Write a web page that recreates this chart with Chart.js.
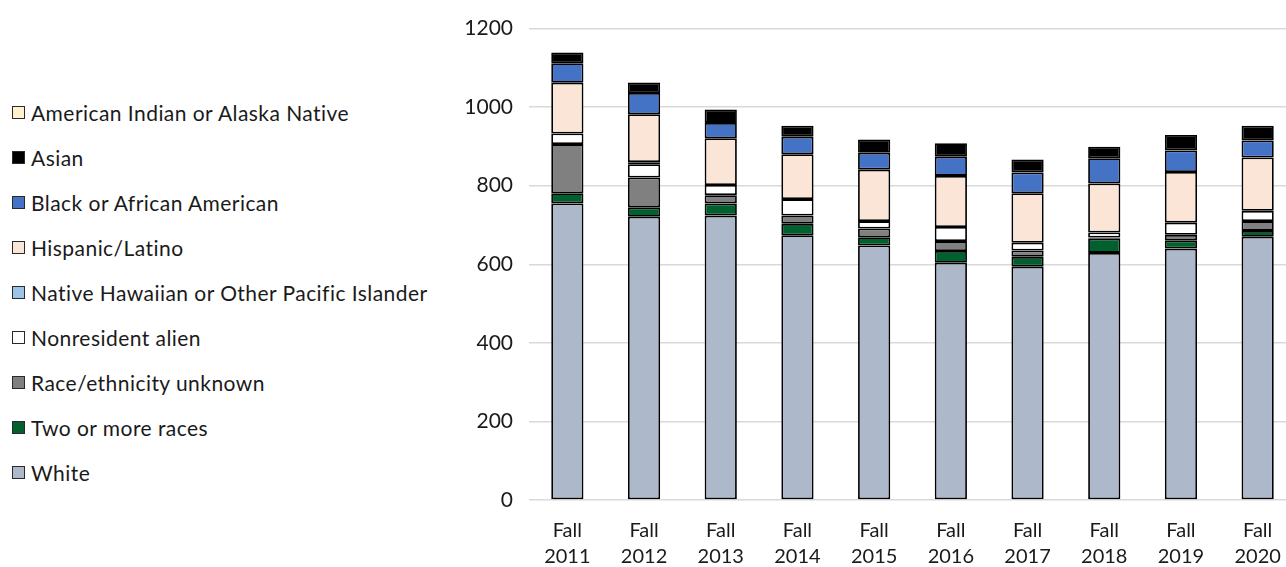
<!DOCTYPE html>
<html>
<head>
<meta charset="utf-8">
<script src="https://cdn.jsdelivr.net/npm/chart.js@4/dist/chart.umd.min.js"></script>
<style>
  html, body { margin: 0; padding: 0; background: #fff; overflow: hidden; width: 1286px; height: 567px; }
  #legend { position: absolute; left: 12px; top: 90px; font-family: Lato, "Open Sans", sans-serif; font-size: 21px; letter-spacing: 0.45px; color: #1a1a1a; }
  .item { height: 45px; display: flex; align-items: center; white-space: nowrap; }
  .box { width: 11px; height: 11px; border: 1px solid #2a2a2a; margin-right: 6px; flex: none; }
  #wrap { position: absolute; left: 440px; top: 0; width: 858px; height: 567px; }
</style>
</head>
<body>
<div id="legend"></div>
<div id="wrap"><canvas id="c" width="858" height="567"></canvas></div>
<script>
const categories = ["Fall 2011","Fall 2012","Fall 2013","Fall 2014","Fall 2015","Fall 2016","Fall 2017","Fall 2018","Fall 2019","Fall 2020"];
const yTicks = [0, 200, 400, 600, 800, 1000, 1200];

// series values (stack order bottom -> top)
const white         = [755, 721, 724, 674, 648, 604, 594, 629, 640, 670];
const twoOrMore     = [ 26,  24,  31,  29,  21,  30,  25,  36,  21,  15];
const unknown       = [125,  76,  21,  21,  22,  25,  16,   3,  14,  25];
const nonresident   = [ 27,  34,  26,  42,  19,  36,  20,  13,  31,  26];
const nativeHawaiian= [  0,   5,   0,   0,   0,   0,   0,   0,   0,   0];
const hispanic      = [129, 122, 119, 114, 131, 130, 126, 125, 129, 136];
const black         = [ 50,  54,  39,  45,  43,  49,  53,  64,  55,  43];
const asian         = [ 27,  27,  34,  28,  34,  34,  33,  29,  39,  38];
const amIndian      = [  0,   0,   0,   0,   0,   0,   0,   0,   0,   0];

const legendOrder = ["American Indian or Alaska Native","Asian","Black or African American","Hispanic/Latino","Native Hawaiian or Other Pacific Islander","Nonresident alien","Race/ethnicity unknown","Two or more races","White"];

const series = [
  { label: "White", data: white, color: "#adb9ca" },
  { label: "Two or more races", data: twoOrMore, color: "#00612e" },
  { label: "Race/ethnicity unknown", data: unknown, color: "#808080" },
  { label: "Nonresident alien", data: nonresident, color: "#ffffff" },
  { label: "Native Hawaiian or Other Pacific Islander", data: nativeHawaiian, color: "#9dc3e6" },
  { label: "Hispanic/Latino", data: hispanic, color: "#fbe5d6" },
  { label: "Black or African American", data: black, color: "#4472c4" },
  { label: "Asian", data: asian, color: "#000000" },
  { label: "American Indian or Alaska Native", data: amIndian, color: "#fff2cc" }
];

// HTML legend
const legendEl = document.getElementById('legend');
legendOrder.forEach(name => {
  const s = series.find(x => x.label === name);
  const it = document.createElement('div');
  it.className = 'item';
  const b = document.createElement('span');
  b.className = 'box';
  b.style.background = s.color;
  const t = document.createElement('span');
  t.textContent = name;
  it.appendChild(b); it.appendChild(t);
  legendEl.appendChild(it);
});

const FONT = { family: "Lato, 'Open Sans', sans-serif", size: 20 };
new Chart(document.getElementById('c'), {
  type: 'bar',
  data: {
    labels: categories.map(c => c.split(' ')),
    datasets: series.map(s => ({
      label: s.label,
      data: s.data,
      backgroundColor: s.color,
      borderColor: '#000000',
      borderWidth: ctx => (ctx.raw ? 1.8 : 0),
      borderSkipped: false,
      inflateAmount: 0,
      barPercentage: 0.42,
      categoryPercentage: 1.0
    }))
  },
  options: {
    responsive: false,
    animation: false,
    layout: { padding: { top: 25, right: 2, left: 0, bottom: 0 } },
    plugins: { legend: { display: false }, tooltip: { enabled: false } },
    scales: {
      x: {
        stacked: true,
        grid: { display: false, drawTicks: false },
        border: { display: false },
        ticks: { color: '#1a1a1a', font: { ...FONT, lineHeight: 1.32 }, padding: 17, maxRotation: 0, autoSkip: false },
        afterFit: s => { s.height = 67; }
      },
      y: {
        stacked: true,
        min: 0, max: 1200,
        afterBuildTicks: s => { s.ticks = yTicks.map(v => ({ value: v })); },
        grid: { color: '#d9d9d9', lineWidth: 1.5, drawTicks: false },
        border: { display: false },
        ticks: { color: '#1a1a1a', font: { ...FONT, size: 21 }, padding: 16, callback: v => String(v) },
        afterFit: s => { s.width = 89; }
      }
    }
  }
});
</script>
</body>
</html>
